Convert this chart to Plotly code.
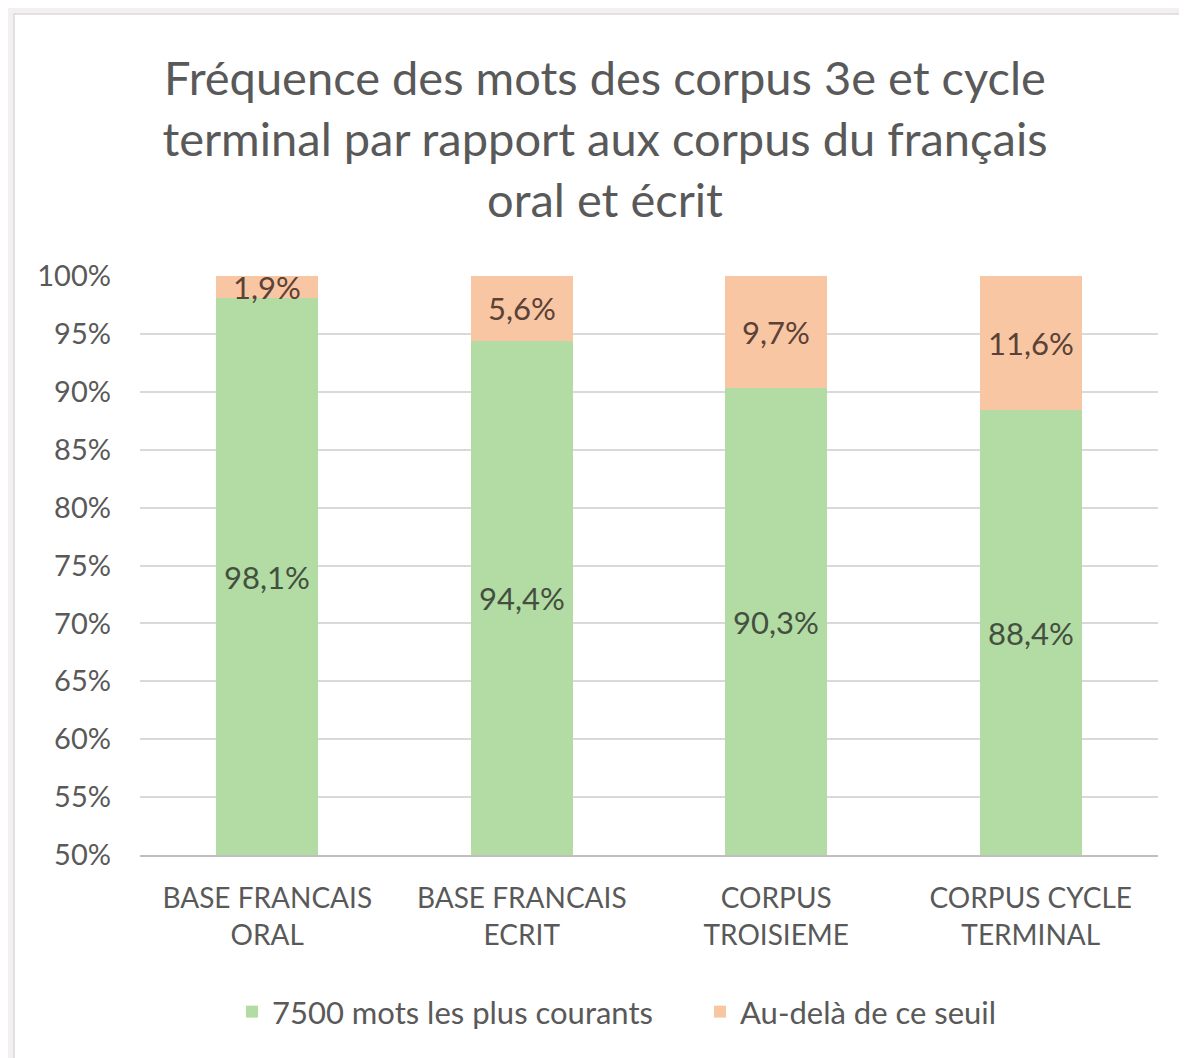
import plotly.graph_objects as go

# Données
categories = [
    "BASE FRANCAIS<br>ORAL",
    "BASE FRANCAIS<br>ECRIT",
    "CORPUS<br>TROISIEME",
    "CORPUS CYCLE<br>TERMINAL",
]
courants = [98.1, 94.4, 90.3, 88.4]
au_dela = [1.9, 5.6, 9.7, 11.6]

GREEN = "#b3dba4"
ORANGE = "#f9c6a3"
GREY_TXT = "#595959"
FONT = "Lato"

Y_MIN, Y_MAX = 50, 100

# la page html ajoute 8 px de marge : on compense
OFF = 8
W, H = 1187 - OFF, 1058 - OFF
L, T = 140 - OFF, 276 - OFF
R = W - (1158 - OFF)
B = H - (855 - OFF)
pw, ph = W - L - R, H - T - B


def fmt(v):
    return f"{v:.1f}".replace(".", ",") + "%"


fig = go.Figure()

fig.add_trace(go.Bar(
    name="7500 mots les plus courants",
    x=categories,
    y=courants,
    marker_color=GREEN,
    marker_line_width=0,
    legend="legend",
))
fig.add_trace(go.Bar(
    name="Au-delà de ce seuil",
    x=categories,
    y=au_dela,
    marker_color=ORANGE,
    marker_line_width=0,
    legend="legend2",
))

# étiquettes centrées sur la partie visible de chaque segment
for cat, g, o in zip(categories, courants, au_dela):
    fig.add_annotation(
        x=cat, y=(Y_MIN + g) / 2, text=fmt(g),
        showarrow=False, font=dict(size=31, color="#435040", family=FONT),
    )
    fig.add_annotation(
        x=cat, y=g + o / 2, text=fmt(o),
        showarrow=False, font=dict(size=31, color="#5a4236", family=FONT),
    )

# cadre blanc du graphique Excel (coordonnées relatives à la zone de tracé)
fig.add_shape(
    type="rect", xref="paper", yref="paper", layer="below",
    x0=(14 - OFF - L) / pw, x1=(W + 5 - L) / pw,
    y0=(H - B - (H + 5)) / ph, y1=(H - B - (14 - OFF)) / ph,
    fillcolor="white", line=dict(color="#d9d9d9", width=1.5),
)

legend_style = dict(
    orientation="h",
    xanchor="left",
    y=(H - B - (1012 - OFF)) / ph, yanchor="middle",
    font=dict(size=31, color=GREY_TXT),
    bgcolor="rgba(0,0,0,0)",
    itemwidth=30,
)

fig.update_layout(
    barmode="stack",
    bargap=0.6,
    width=W,
    height=H,
    margin=dict(l=L, r=R, t=T, b=B),
    paper_bgcolor="#f4eff1",
    plot_bgcolor="rgba(0,0,0,0)",
    font=dict(family=FONT, color=GREY_TXT),
    title=dict(
        text="Fréquence des mots des corpus 3e et cycle<br>"
             "terminal par rapport aux corpus du français<br>"
             "oral et écrit",
        x=597 / W, xanchor="center",
        y=1 - 87 / H, yanchor="top",
        font=dict(size=47, color=GREY_TXT, family=FONT),
    ),
    xaxis=dict(
        tickfont=dict(size=28, color=GREY_TXT),
        showline=True, linecolor="#bfbfbf", linewidth=1.5,
        ticks="", showgrid=False,
        ticklabelstandoff=18,
    ),
    yaxis=dict(
        range=[Y_MIN, Y_MAX],
        dtick=5,
        ticksuffix="%",
        tickfont=dict(size=29, color=GREY_TXT),
        gridcolor="#d9d9d9", gridwidth=1.5,
        zeroline=False, showline=False, ticks="",
        ticklabelstandoff=28,
    ),
    legend=dict(legend_style, x=(232 - OFF - L) / pw),
    legend2=dict(legend_style, x=(700 - OFF - L) / pw),
    showlegend=True,
)

fig.write_html("out.html")
